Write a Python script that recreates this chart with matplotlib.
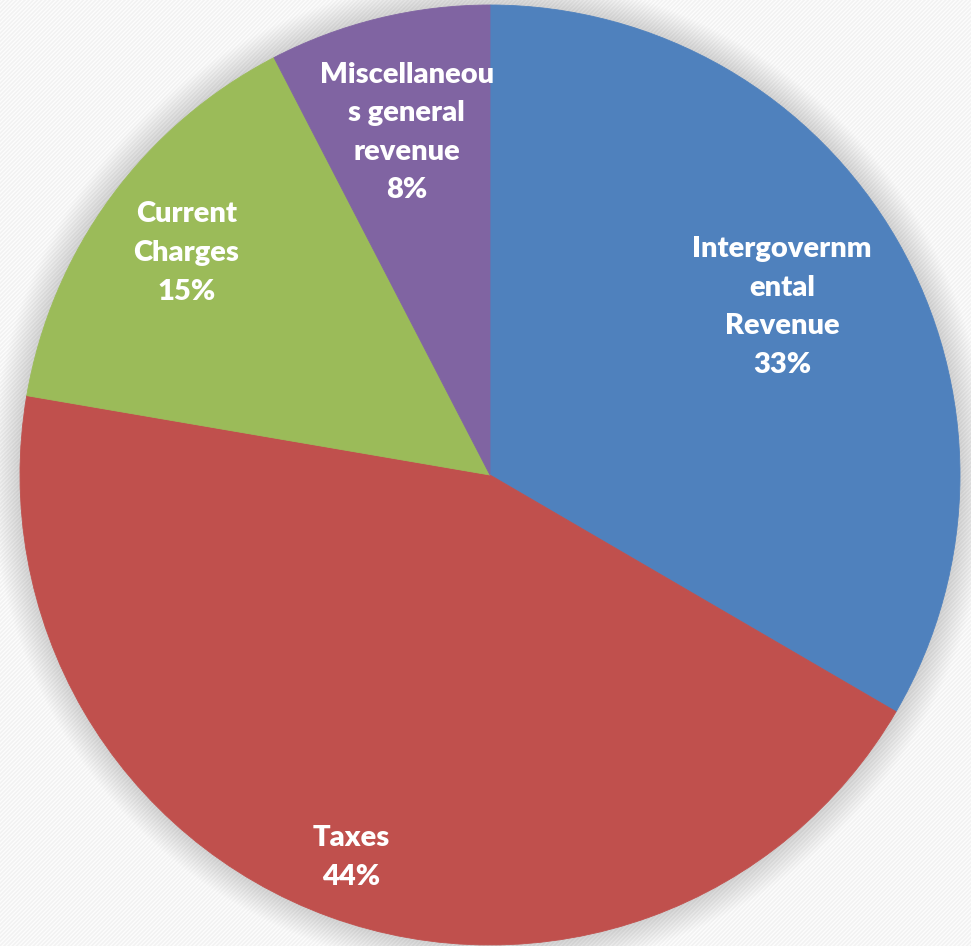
import matplotlib
matplotlib.use("Agg")
import matplotlib.pyplot as plt
import numpy as np
from matplotlib.patches import Circle, Rectangle

# ---- data ----
categories = ["Intergovernmental Revenue", "Taxes", "Current Charges",
              "Miscellaneous general revenue"]
display_labels = ["Intergovernm\nental\nRevenue", "Taxes", "Current\nCharges",
                  "Miscellaneou\ns general\nrevenue"]
values = [33.4, 44.3, 14.7, 7.6]
colors = ["#4F81BD", "#C0504D", "#9BBB59", "#8064A2"]

# ---- style ----
W, H = 971, 946
center = (490, 471)
R = 470
label_dist = [0.717, 0.866, 0.80, 0.75]

plt.rcParams["hatch.linewidth"] = 1.2
fig = plt.figure(figsize=(W / 100, H / 100), dpi=100)
fig.patch.set_facecolor("white")
ax = fig.add_axes([0, 0, 1, 1])

wedges, _ = ax.pie(values, colors=colors, startangle=90, counterclock=False,
                   center=center, radius=R,
                   wedgeprops=dict(linewidth=0.6, zorder=5))
for w, c in zip(wedges, colors):
    w.set_edgecolor(c)

# background stripes
bg = Rectangle((0, 0), W, H, facecolor="#fdfdfd", edgecolor="#f2f2f2",
               hatch="/" * 8, linewidth=0, zorder=0)
ax.add_patch(bg)

# soft shadow
for k in range(1, 20):
    ax.add_patch(Circle(center, R + k * 1.5, facecolor="#707070",
                        alpha=0.012, edgecolor="none", zorder=1))

total = sum(values)
for w, lab, v, d in zip(wedges, display_labels, values, label_dist):
    th = np.deg2rad((w.theta1 + w.theta2) / 2)
    x = center[0] + d * R * np.cos(th)
    y = center[1] + d * R * np.sin(th)
    ax.text(x, y, f"{lab}\n{v / total * 100:.0f}%", ha="center", va="center",
            color="white", fontsize=21, fontweight="heavy", family="Lato",
            linespacing=1.6, zorder=10)

ax.set_xlim(0, W)
ax.set_ylim(0, H)
ax.set_aspect("auto")
ax.axis("off")

fig.savefig("out.png", dpi=100, facecolor=fig.get_facecolor())
